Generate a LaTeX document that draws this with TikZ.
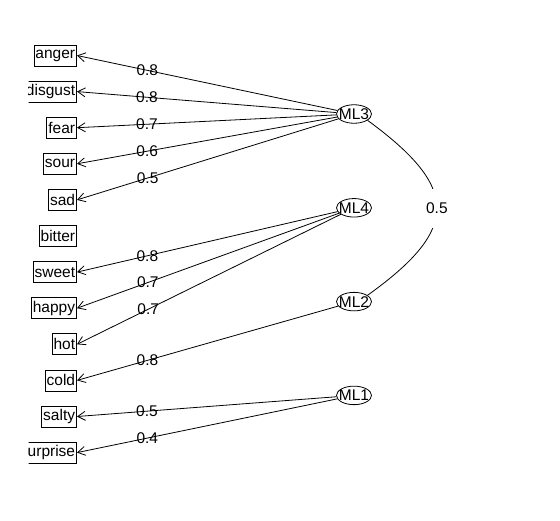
\documentclass[tikz,border=0pt]{standalone}
\usepackage{fontspec}
\setmainfont{Liberation Sans}
\usetikzlibrary{arrows.meta}
\usetikzlibrary{shapes.geometric}
\tikzset{>={Straight Barb[length=7.5pt,width=9pt]}}
\tikzset{
	item/.style={draw, anchor=east, inner xsep=1.5pt, inner ysep=0pt, minimum height=21pt},
	fac/.style={draw, ellipse, inner sep=0pt, minimum width=35pt, minimum height=18.5pt},
	load/.style={->},
}

\begin{document}
\begin{tikzpicture}[x=1pt, y=-1pt, line width=0.8pt, font=\fontsize{15.5}{18}\selectfont]
	\useasboundingbox (0,0) rectangle (560,520);
	\clip (28.5,0) rectangle (560,520);
	% observed variables
	\node[item] (anger)   at (77,55.5)  {anger};
	\node[item] (disgust) at (77,91.6)  {disgust};
	\node[item] (fear)    at (77,127.7) {fear};
	\node[item] (sour)    at (77,163.8) {sour};
	\node[item] (sad)     at (77,199.9) {sad};
	\node[item] (bitter)  at (77,236)   {bitter};
	\node[item] (sweet)   at (77,272.1) {sweet};
	\node[item] (happy)   at (77,308.2) {happy};
	\node[item] (hot)     at (77,344.3) {hot};
	\node[item] (cold)    at (77,380.4) {cold};
	\node[item] (salty)   at (77,416.5) {salty};
	\node[item] (urprise) at (77,452.6) {urprise};
	% factors
	\node[fac] (ML3) at (354,114)   {\makebox[0pt]{ML3}};
	\node[fac] (ML4) at (354,207.8) {\makebox[0pt]{ML4}};
	\node[fac] (ML2) at (354,301.6) {\makebox[0pt]{ML2}};
	\node[fac] (ML1) at (354,395.4) {\makebox[0pt]{ML1}};
	% loadings
	\draw[load] (ML3) -- (anger.east)   node[pos=0.73] {0.8};
	\draw[load] (ML3) -- (disgust.east) node[pos=0.73] {0.8};
	\draw[load] (ML3) -- (fear.east)    node[pos=0.73] {0.7};
	\draw[load] (ML3) -- (sour.east)    node[pos=0.73] {0.6};
	\draw[load] (ML3) -- (sad.east)     node[pos=0.73] {0.5};
	\draw[load] (ML4) -- (sweet.east)   node[pos=0.73] {0.8};
	\draw[load] (ML4) -- (happy.east)   node[pos=0.73] {0.7};
	\draw[load] (ML4) -- (hot.east)     node[pos=0.73] {0.7};
	\draw[load] (ML2) -- (cold.east)    node[pos=0.73] {0.8};
	\draw[load] (ML1) -- (salty.east)   node[pos=0.73] {0.5};
	\draw[load] (ML1) -- (urprise.east) node[pos=0.73] {0.4};
	% factor correlation
	\draw (ML3.-25) .. controls (460,188) and (460,229) .. (ML2.25)
		node[midway, fill=white, inner xsep=1pt, inner ysep=14pt] {0.5};
\end{tikzpicture}
\end{document}
